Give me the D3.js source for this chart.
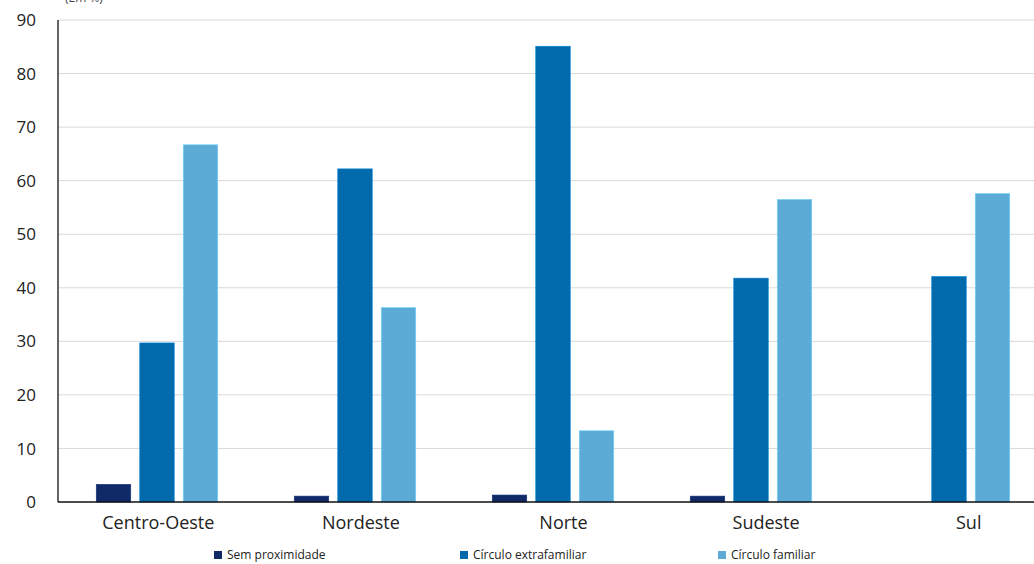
<!DOCTYPE html>
<html><head><meta charset="utf-8">
<script src="https://cdn.jsdelivr.net/npm/d3@7"></script>
<style>body{margin:0;background:#fff}svg{display:block;font-family:"Open Sans","Noto Sans",sans-serif}</style>
</head><body><svg id="c" width="1034" height="564"></svg>
<script>
const categories = ["Centro-Oeste","Nordeste","Norte","Sudeste","Sul"];
const seriesNames = ["Sem proximidade","Círculo extrafamiliar","Círculo familiar"];
const semProximidade = [3.3, 1.1, 1.3, 1.1, 0];
const circuloExtrafamiliar = [29.7, 62.2, 85.1, 41.8, 42.1];
const circuloFamiliar = [66.7, 36.3, 13.3, 56.5, 57.6];
const yTicks = [0,10,20,30,40,50,60,70,80,90];
const colors = ["#0f2a66","#006aad","#5cabd6"];
const values = [semProximidade, circuloExtrafamiliar, circuloFamiliar];

const svg = d3.select("#c");
const y = d3.scaleLinear().domain([0,90]).range([502,20]);
const x0 = d3.scaleBand().domain(categories).range([58,1048]);
const x1 = d3.scaleBand().domain(seriesNames).range([-60.75,60.75]).paddingInner(0.207);
const xl = d3.scaleBand().domain(categories).range([57,1070]);

svg.append("text").attr("x",65).attr("y",2).attr("font-size",12).attr("fill","#444").text("(Em %)");

svg.append("g").selectAll("line").data(yTicks.filter(d=>d>0)).join("line")
  .attr("x1",58).attr("x2",1034).attr("y1",d=>y(d)).attr("y2",d=>y(d))
  .attr("stroke","#d9d9d9").attr("stroke-width",1);

svg.append("g").selectAll("text").data(yTicks).join("text")
  .attr("x",36).attr("y",d=>y(d)).attr("dy","0.36em").attr("text-anchor","end")
  .attr("font-size",17).attr("fill","#222").text(d=>d);

categories.forEach((c,i)=>{
  seriesNames.forEach((s,j)=>{
    const v = values[j][i];
    if (v<=0) return;
    svg.append("rect")
      .attr("x", x0(c)+x0.bandwidth()/2 + x1(s))
      .attr("y", y(v)).attr("width", x1.bandwidth()).attr("height", y(0)-y(v))
      .attr("fill", colors[j]).attr("stroke", d3.color(colors[j]).brighter(0.6)).attr("stroke-width",0.6);
  });
});

svg.append("line").attr("x1",58).attr("x2",58).attr("y1",20).attr("y2",502).attr("stroke","#111").attr("stroke-width",1.3);
svg.append("line").attr("x1",58).attr("x2",1034).attr("y1",502).attr("y2",502).attr("stroke","#111").attr("stroke-width",1.3);

svg.append("g").selectAll("text").data(categories).join("text")
  .attr("x",d=>xl(d)+xl.bandwidth()/2).attr("y",529).attr("text-anchor","middle")
  .attr("font-size",18).attr("fill","#222").text(d=>d);

const legX = [214, 460, 718];
const lg = svg.append("g");
seriesNames.forEach((s,j)=>{
  lg.append("rect").attr("x",legX[j]).attr("y",551).attr("width",8).attr("height",8).attr("fill",colors[j]);
  lg.append("text").attr("x",legX[j]+13).attr("y",559).attr("font-size",12).attr("fill","#222").text(s);
});
</script></body></html>
